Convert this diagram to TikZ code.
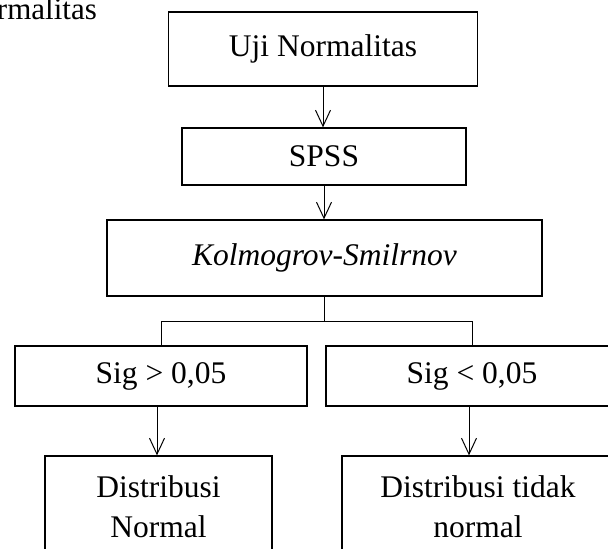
\documentclass[tikz,border=0pt]{standalone}
\usepackage{fontspec}
\setmainfont{Liberation Serif}
\usetikzlibrary{arrows.meta}
\tikzset{
  box/.style={draw, line width=1.3pt, inner sep=0pt, align=center,
    font=\fontsize{31.5}{40}\selectfont},
  conn/.style={line width=1pt},
  arr/.style={conn, -{Straight Barb[length=16pt,width=15pt]}},
}
\begin{document}
\begin{tikzpicture}[x=1pt,y=-1pt]
  \useasboundingbox (0,0) rectangle (608,549);
  \clip (0,0) rectangle (608,549);
  % heading fragment
  \node[anchor=base east, inner sep=0pt, font=\fontsize{31}{36}\selectfont]
    (head) at (97,19) {rmalitas};
  % boxes
  \node[box, minimum width=309pt, minimum height=74pt] (uji) at (323,49) {Uji Normalitas};
  \node[box, minimum width=284pt, minimum height=57pt] (spss) at (324,156.5) {SPSS};
  \node[box, minimum width=435pt, minimum height=76pt] (kol) at (324.5,258) {\itshape Kolmogrov-Smilrnov};
  \node[box, minimum width=292pt, minimum height=60pt] (siga) at (161,376) {Sig > 0,05};
  \node[box, minimum width=292pt, minimum height=60pt] (sigb) at (472,376) {Sig < 0,05};
  \node[box, minimum width=227pt, minimum height=102pt] (distn) at (158.5,507) {Distribusi\\Normal};
  \node[box, minimum width=272pt, minimum height=102pt] (distt) at (478,507) {Distribusi tidak\\normal};
  % connectors
  \draw[arr] (uji.south) -- (uji.south |- spss.north);
  \draw[arr] (spss.south) -- (spss.south |- kol.north);
  \coordinate (split) at ([yshift=-25pt]kol.south);
  \draw[conn] (kol.south) -- (split);
  \draw[conn] (siga.north) |- (split) -| (sigb.north);
  \coordinate (ta) at ([xshift=-4pt]siga.south);
  \coordinate (tb) at ([xshift=-3pt]sigb.south);
  \draw[arr] (ta) -- (ta |- distn.north);
  \draw[arr] (tb) -- (tb |- distt.north);
\end{tikzpicture}
\end{document}
